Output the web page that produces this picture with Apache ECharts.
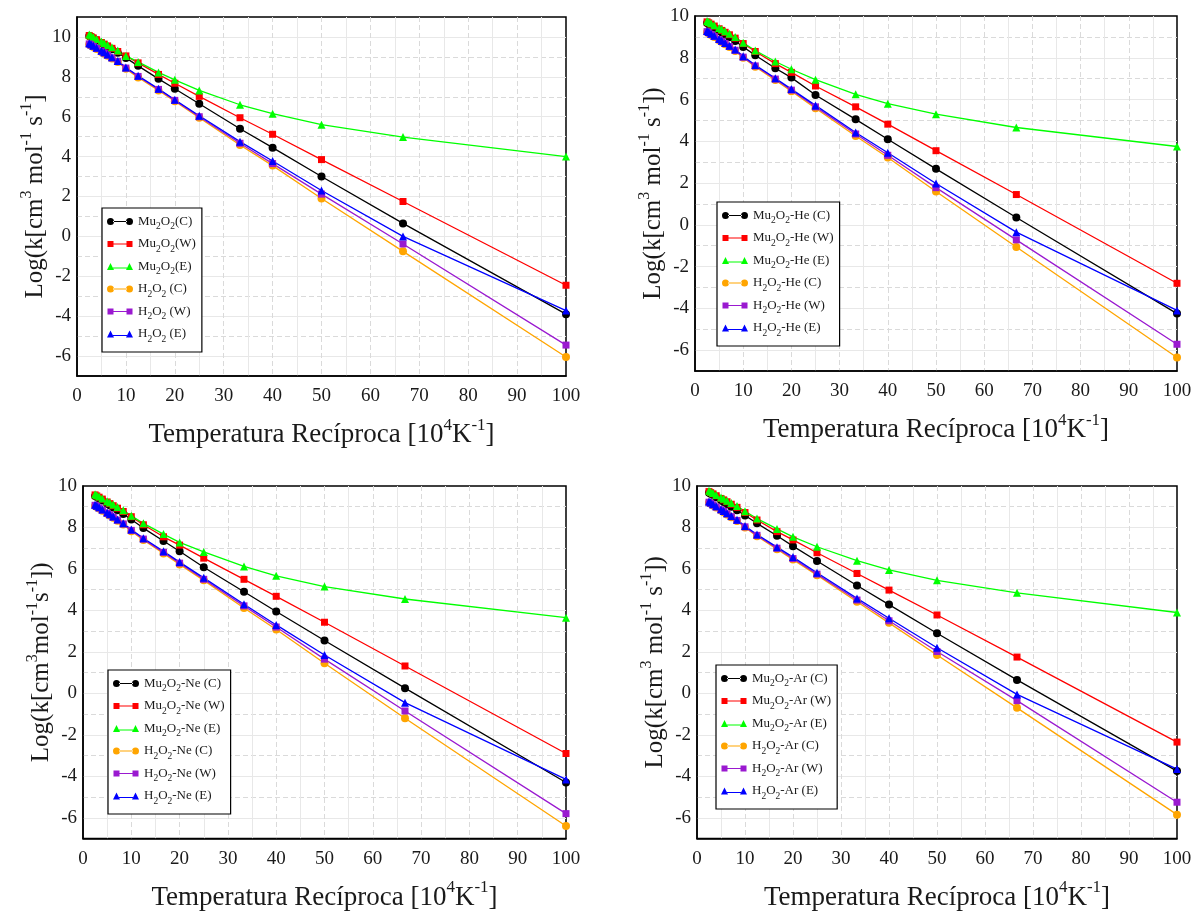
<!DOCTYPE html>
<html>
<head>
<meta charset="utf-8">
<script src="https://cdn.jsdelivr.net/npm/echarts@6/dist/echarts.min.js"></script>
<style>
  html, body { margin: 0; padding: 0; background: #fff; }
  #chart { width: 1195px; height: 912px; }
</style>
</head>
<body>
<div id="chart"></div>
<script>
// Reciprocal temperature, 10^4 / T  (T = 4000 K ... 100 K)
const recipT = [2.5, 2.857, 3.333, 4, 5, 5.556, 6.25, 7.143, 8.333, 10, 12.5, 16.667, 20, 25, 33.333, 40, 50, 66.667, 100];

// Series labels per panel
const namesBare = ['Mu2O2(C)', 'Mu2O2(W)', 'Mu2O2(E)', 'H2O2 (C)', 'H2O2 (W)', 'H2O2 (E)'];
const namesHe = ['Mu2O2-He (C)', 'Mu2O2-He (W)', 'Mu2O2-He (E)', 'H2O2-He (C)', 'H2O2-He (W)', 'H2O2-He (E)'];
const namesNe = ['Mu2O2-Ne (C)', 'Mu2O2-Ne (W)', 'Mu2O2-Ne (E)', 'H2O2-Ne (C)', 'H2O2-Ne (W)', 'H2O2-Ne (E)'];
const namesAr = ['Mu2O2-Ar (C)', 'Mu2O2-Ar (W)', 'Mu2O2-Ar (E)', 'H2O2-Ar (C)', 'H2O2-Ar (W)', 'H2O2-Ar (E)'];

// log10 k  — bare reaction
const bareMuC = [10.05, 10.0, 9.93, 9.83, 9.69, 9.61, 9.51, 9.38, 9.21, 8.95, 8.55, 7.9, 7.4, 6.65, 5.4, 4.45, 3.0, 0.65, -3.9];
const bareMuW = [10.07, 10.02, 9.95, 9.86, 9.72, 9.64, 9.55, 9.43, 9.27, 9.05, 8.7, 8.12, 7.68, 7.02, 5.95, 5.12, 3.85, 1.75, -2.45];
const bareMuE = [10.12, 10.07, 10.0, 9.9, 9.77, 9.7, 9.6, 9.48, 9.32, 9.05, 8.75, 8.22, 7.85, 7.32, 6.6, 6.15, 5.6, 4.98, 4.0];
const bareHC  = [9.62, 9.57, 9.5, 9.4, 9.25, 9.17, 9.06, 8.92, 8.74, 8.4, 7.97, 7.32, 6.78, 5.95, 4.58, 3.55, 1.9, -0.75, -6.05];
const bareHW  = [9.65, 9.6, 9.53, 9.43, 9.28, 9.2, 9.09, 8.95, 8.77, 8.44, 8.02, 7.37, 6.82, 6.0, 4.67, 3.65, 2.12, -0.38, -5.45];
const bareHE  = [9.68, 9.63, 9.56, 9.46, 9.31, 9.23, 9.12, 8.98, 8.8, 8.47, 8.05, 7.4, 6.85, 6.05, 4.75, 3.78, 2.3, 0.0, -3.72];

// log10 k  — He
const heMuC = [9.66, 9.61, 9.54, 9.44, 9.29, 9.21, 9.11, 8.98, 8.8, 8.52, 8.12, 7.5, 7.05, 6.22, 5.05, 4.1, 2.68, 0.35, -4.25];
const heMuW = [9.72, 9.67, 9.61, 9.52, 9.39, 9.31, 9.22, 9.1, 8.94, 8.68, 8.3, 7.72, 7.3, 6.65, 5.65, 4.82, 3.55, 1.45, -2.8];
const heMuE = [9.76, 9.71, 9.65, 9.56, 9.43, 9.36, 9.27, 9.15, 8.99, 8.72, 8.35, 7.82, 7.45, 6.95, 6.25, 5.8, 5.3, 4.66, 3.75];
const heHC  = [9.22, 9.17, 9.09, 8.99, 8.84, 8.76, 8.65, 8.51, 8.32, 8.0, 7.57, 6.93, 6.4, 5.58, 4.25, 3.22, 1.6, -1.06, -6.35];
const heHW  = [9.25, 9.2, 9.12, 9.02, 8.87, 8.79, 8.68, 8.54, 8.36, 8.03, 7.61, 6.98, 6.45, 5.65, 4.35, 3.33, 1.78, -0.72, -5.72];
const heHE  = [9.28, 9.23, 9.15, 9.05, 8.9, 8.82, 8.71, 8.57, 8.39, 8.07, 7.65, 7.02, 6.5, 5.72, 4.42, 3.45, 1.98, -0.35, -4.1];

// log10 k  — Ne
const neMuC = [9.52, 9.47, 9.4, 9.3, 9.15, 9.07, 8.96, 8.83, 8.65, 8.38, 7.97, 7.35, 6.85, 6.08, 4.9, 3.95, 2.55, 0.25, -4.3];
const neMuW = [9.57, 9.52, 9.46, 9.37, 9.23, 9.15, 9.05, 8.93, 8.77, 8.52, 8.13, 7.55, 7.15, 6.52, 5.5, 4.68, 3.43, 1.32, -2.9];
const neMuE = [9.6, 9.55, 9.49, 9.4, 9.27, 9.2, 9.11, 8.99, 8.83, 8.56, 8.2, 7.68, 7.28, 6.82, 6.12, 5.67, 5.15, 4.55, 3.65];
const neHC  = [9.04, 8.99, 8.91, 8.81, 8.66, 8.58, 8.47, 8.33, 8.14, 7.82, 7.4, 6.75, 6.22, 5.45, 4.12, 3.08, 1.45, -1.2, -6.4];
const neHW  = [9.07, 9.02, 8.94, 8.84, 8.69, 8.61, 8.5, 8.36, 8.17, 7.86, 7.44, 6.8, 6.28, 5.5, 4.22, 3.2, 1.65, -0.85, -5.8];
const neHE  = [9.1, 9.05, 8.97, 8.87, 8.72, 8.64, 8.53, 8.39, 8.2, 7.9, 7.48, 6.85, 6.33, 5.57, 4.3, 3.3, 1.85, -0.45, -4.15];

// log10 k  — Ar
const arMuC = [9.68, 9.63, 9.56, 9.46, 9.31, 9.23, 9.13, 9.0, 8.83, 8.58, 8.2, 7.6, 7.1, 6.38, 5.2, 4.28, 2.9, 0.65, -3.75];
const arMuW = [9.73, 9.68, 9.62, 9.53, 9.4, 9.33, 9.24, 9.12, 8.97, 8.72, 8.36, 7.8, 7.4, 6.78, 5.78, 4.98, 3.78, 1.75, -2.35];
const arMuE = [9.77, 9.72, 9.66, 9.57, 9.45, 9.38, 9.29, 9.18, 9.03, 8.78, 8.43, 7.93, 7.55, 7.07, 6.4, 5.95, 5.45, 4.85, 3.9];
const arHC  = [9.19, 9.14, 9.06, 8.96, 8.82, 8.74, 8.63, 8.49, 8.31, 8.0, 7.58, 6.95, 6.45, 5.7, 4.42, 3.4, 1.85, -0.7, -5.85];
const arHW  = [9.22, 9.17, 9.09, 8.99, 8.85, 8.77, 8.66, 8.52, 8.34, 8.03, 7.62, 7.0, 6.5, 5.75, 4.5, 3.5, 2.02, -0.35, -5.25];
const arHE  = [9.25, 9.2, 9.12, 9.02, 8.88, 8.8, 8.69, 8.55, 8.37, 8.07, 7.66, 7.05, 6.57, 5.82, 4.58, 3.62, 2.2, -0.05, -3.65];

// Axis ranges and tick spacing
const xRange = [0, 100];
const xStep = 10;
const yStep = 1;

const SERIF = '"Liberation Serif", "Times New Roman", "DejaVu Serif", serif';
const TEXT = '#1a1a1a';

const colors = ['#000000', '#ff0000', '#00ff00', '#ffa500', '#9a19d0', '#0000ff'];
const symbols = ['circle', 'rect', 'triangle', 'circle', 'rect', 'triangle'];
const symbolSizes = [8, 7, 8, 8, 7, 8];

// legend icons: a short line with a marker at each end
const iconCircle = 'path://M0,3.5a3.5,3.5 0 1,0 7,0a3.5,3.5 0 1,0 -7,0z M6,2.9h14v1.2h-14z M19,3.5a3.5,3.5 0 1,0 7,0a3.5,3.5 0 1,0 -7,0z';
const iconRect = 'path://M0.5,0.5h6v6h-6z M6,2.9h14v1.2h-14z M19.5,0.5h6v6h-6z M0,0h0.01v7h-0.01z M25.99,0h0.01v7h-0.01z';
const iconTri = 'path://M3.5,0L7,7H0z M6,4.4h14v1.2h-14z M22.5,0L26,7H19z';
const icons = [iconCircle, iconRect, iconTri, iconCircle, iconRect, iconTri];

const panels = [
  { grid: { left: 77, top: 17, width: 489, height: 359 }, yMax: 11,
    yName: '{n|Log(k[cm}{p|3}{n| mol}{p|-1}{n| s}{p|-1}{n|]}',
    legendPos: { left: 102, top: 208 },
    names: namesBare, values: [bareMuC, bareMuW, bareMuE, bareHC, bareHW, bareHE] },
  { grid: { left: 695, top: 16, width: 482, height: 355 }, yMax: 10,
    yName: '{n|Log(k[cm}{p|3}{n| mol}{p|-1}{n| s}{p|-1}{n|])}',
    legendPos: { left: 717, top: 202 },
    names: namesHe, values: [heMuC, heMuW, heMuE, heHC, heHW, heHE] },
  { grid: { left: 83, top: 486, width: 483, height: 355 }, yMax: 10,
    yName: '{n|Log(k[cm}{p|3}{n|mol}{p|-1}{n|s}{p|-1}{n|])}',
    legendPos: { left: 108, top: 670 },
    names: namesNe, values: [neMuC, neMuW, neMuE, neHC, neHW, neHE] },
  { grid: { left: 697, top: 486, width: 480, height: 353 }, yMax: 10,
    yName: '{n|Log(k[cm}{p|3}{n| mol}{p|-1}{n| s}{p|-1}{n|])}',
    legendPos: { left: 716, top: 665 },
    names: namesAr, values: [arMuC, arMuW, arMuE, arHC, arHW, arHE] }
];

const yNameRich = {
  n: { fontFamily: SERIF, fontSize: 25, color: TEXT, lineHeight: 34 },
  p: { fontFamily: SERIF, fontSize: 16, color: TEXT, lineHeight: 16, verticalAlign: 'top' }
};
const xNameRich = {
  n: { fontFamily: SERIF, fontSize: 27, color: TEXT, lineHeight: 36 },
  p: { fontFamily: SERIF, fontSize: 17, color: TEXT, lineHeight: 17, verticalAlign: 'top' }
};

const legendRich = {
  n: { fontFamily: SERIF, fontSize: 13, color: TEXT, lineHeight: 20 },
  s: { fontFamily: SERIF, fontSize: 9.5, color: TEXT, lineHeight: 10, verticalAlign: 'bottom' }
};

function legendLabel(name) {
  return '{n|' + name.replace(/2/g, '}{s|2}{n|') + '}';
}

const grids = [], xAxes = [], yAxes = [], legends = [], series = [];

panels.forEach((p, i) => {
  grids.push(Object.assign({
    show: true, borderColor: '#000', borderWidth: 1.5, backgroundColor: '#fff', containLabel: false
  }, p.grid));

  xAxes.push({
    type: 'value', gridIndex: i, min: xRange[0], max: xRange[1], interval: xStep,
    name: '{n|Temperatura Recíproca [10}{p|4}{n|K}{p|-1}{n|]}',
    nameLocation: 'middle', nameGap: 41,
    nameTextStyle: { rich: xNameRich },
    axisLine: { show: true, onZero: false, lineStyle: { color: '#000', width: 1.5 } },
    axisTick: { show: false },
    axisLabel: { fontFamily: SERIF, fontSize: 19, color: TEXT, margin: 11 },
    splitLine: { show: true, showMinLine: false, showMaxLine: false,
      lineStyle: { color: '#dadada', type: [5, 3], width: 1 } },
    minorTick: { show: false, splitNumber: 2 },
    minorSplitLine: { show: true, lineStyle: { color: '#e8e8e8', width: 1 } }
  });

  // labelled axis: solid lines at odd values
  yAxes.push({
    type: 'value', gridIndex: i, min: -7, max: p.yMax, interval: yStep,
    name: p.yName, nameLocation: 'middle', nameGap: 22, nameRotate: 90,
    nameTextStyle: { rich: yNameRich },
    axisLine: { show: true, onZero: false, lineStyle: { color: '#000', width: 1.5 } },
    axisTick: { show: false },
    axisLabel: { fontFamily: SERIF, fontSize: 19, color: TEXT, margin: 6,
      formatter: v => (Math.round(v) % 2 === 0 ? String(Math.round(v)) : '') },
    splitLine: { show: true, showMinLine: false, showMaxLine: false,
      lineStyle: { color: ['#e8e8e8', 'rgba(0,0,0,0)'], width: 1 } }
  });
  // companion axis: dashed lines at even values
  yAxes.push({
    type: 'value', gridIndex: i, min: -7, max: p.yMax, interval: yStep, position: 'left',
    axisLine: { show: false, onZero: false }, axisTick: { show: false }, axisLabel: { show: false },
    splitLine: { show: true, showMinLine: false, showMaxLine: false,
      lineStyle: { color: ['rgba(0,0,0,0)', '#dadada'], type: [5, 3], width: 1 } }
  });

  legends.push({
    orient: 'vertical', left: p.legendPos.left, top: p.legendPos.top,
    backgroundColor: '#fff', borderColor: '#000', borderWidth: 1.2,
    padding: [7, 6, 8, 5], itemGap: 6, itemWidth: 26, itemHeight: 7,
    symbolKeepAspect: false, selectedMode: false,
    itemStyle: { borderWidth: 0 },
    textStyle: { rich: legendRich },
    formatter: legendLabel,
    data: p.names.map((n, k) => ({ name: n, icon: icons[k] }))
  });

  p.names.forEach((n, k) => {
    series.push({
      type: 'line', name: n, xAxisIndex: i, yAxisIndex: 2 * i,
      data: recipT.map((x, j) => [x, p.values[k][j]]),
      symbol: symbols[k], symbolSize: symbolSizes[k],
      lineStyle: { color: colors[k], width: 1.3 },
      itemStyle: { color: colors[k], borderWidth: 0 },
      emphasis: { disabled: true },
      z: 3
    });
  });
});

const chart = echarts.init(document.getElementById('chart'), null, { renderer: 'canvas' });
chart.setOption({
  animation: false,
  backgroundColor: '#fff',
  grid: grids, xAxis: xAxes, yAxis: yAxes, legend: legends, series: series
});
</script>
</body>
</html>
